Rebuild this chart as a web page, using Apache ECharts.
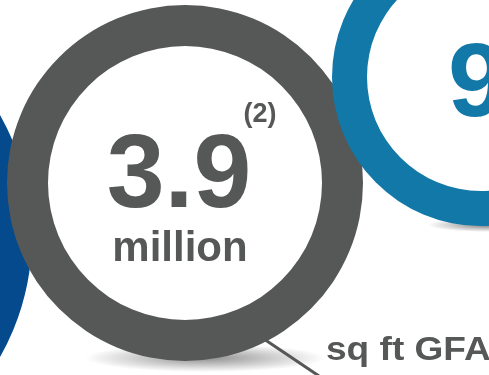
<!DOCTYPE html>
<html>
<head>
<meta charset="utf-8">
<script src="https://cdn.jsdelivr.net/npm/echarts@6/dist/echarts.min.js"></script>
<style>
  html, body { margin: 0; padding: 0; background: #ffffff; }
  #chart { width: 489px; height: 375px; }
</style>
</head>
<body>
<div id="chart"></div>
<script>
// Key figures shown as rings
const ringNames = ['left', 'gfa', 'right'];
const ringValues = [1, 1, 1];
const headlineValue = '3.9';
const headlineUnit = 'million';
const headlineNote = '(2)';
const rightValue = '9';
const gfaCaption = 'sq ft GFA';

const GRAY = '#565857';
const TEAL = '#1178a8';
const NAVY = '#044a8c';
const FONT = '"Liberation Sans", Arial, sans-serif';

function ring(name, value, center, radius, color, z) {
  return {
    type: 'pie',
    name: name,
    silent: true,
    animation: false,
    center: center,
    radius: radius,
    z: z,
    label: { show: false },
    labelLine: { show: false },
    emphasis: { disabled: true },
    itemStyle: { color: color, borderWidth: 0 },
    data: [{ name: name, value: value }]
  };
}

// Flattened soft shadow: a radial-gradient disc squashed vertically
function softShadow(cx, cy, rx, ry, alpha) {
  return {
    type: 'circle',
    z: 0,
    silent: true,
    x: cx,
    y: cy,
    scaleY: ry / rx,
    shape: { cx: 0, cy: 0, r: rx },
    style: {
      fill: {
        type: 'radial', x: 0.5, y: 0.5, r: 0.5,
        colorStops: [
          { offset: 0, color: 'rgba(70,70,70,' + alpha + ')' },
          { offset: 0.5, color: 'rgba(70,70,70,' + (alpha * 0.5) + ')' },
          { offset: 1, color: 'rgba(70,70,70,0)' }
        ]
      }
    }
  };
}

function label(text, x, y, size, color, align, sx) {
  return {
    type: 'text',
    z: 100,
    silent: true,
    x: x,
    y: y,
    scaleX: sx || 1,
    style: {
      text: text,
      x: 0,
      y: 0,
      font: 'bold ' + size + 'px ' + FONT,
      fill: color,
      textAlign: align || 'center',
      textVerticalAlign: 'middle'
    }
  };
}

const chart = echarts.init(document.getElementById('chart'), null, { renderer: 'canvas' });

chart.setOption({
  animation: false,
  backgroundColor: '#ffffff',
  series: [
    ring(ringNames[0], ringValues[0], [-213, 236], [190, 245], NAVY, 2),
    ring(ringNames[1], ringValues[1], [185, 183], [137, 178], GRAY, 3),
    ring(ringNames[2], ringValues[2], [481, 77], [114, 149], TEAL, 4)
  ],
  graphic: [
    softShadow(205, 358, 120, 14, 0.6),
    softShadow(488, 225, 60, 7, 0.7),
    {
      type: 'line',
      z: 1,
      silent: true,
      shape: { x1: 255, y1: 333, x2: 319, y2: 376 },
      style: { stroke: GRAY, lineWidth: 3 }
    },
    label(headlineValue, 179, 178, 104, GRAY),
    label(headlineUnit, 180, 249, 42, GRAY),
    label(headlineNote, 260, 115, 27, GRAY),
    label(rightValue, 448, 87, 104, TEAL, 'left'),
    label(gfaCaption, 326, 351, 34, GRAY, 'left', 1.09)
  ]
});
</script>
</body>
</html>
